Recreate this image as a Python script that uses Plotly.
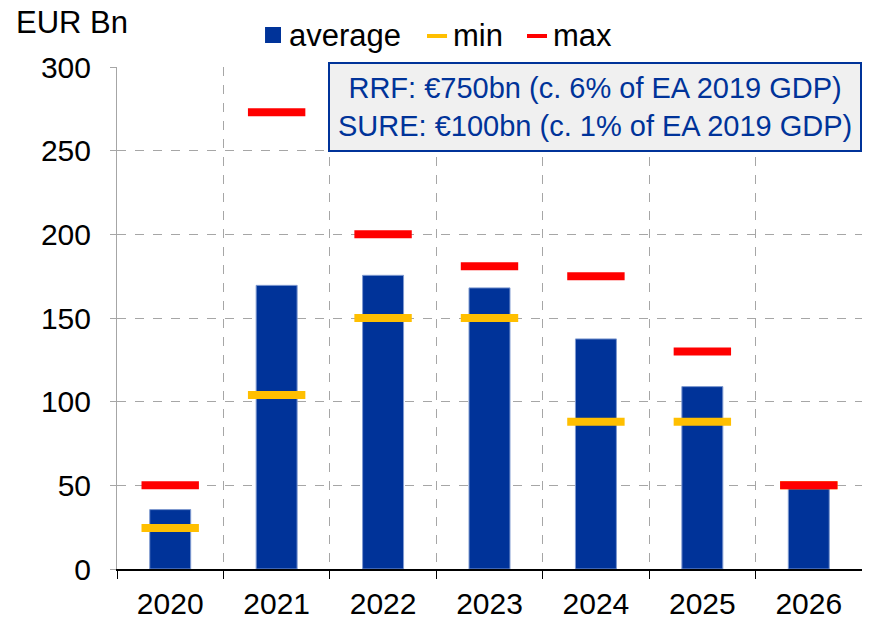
import plotly.graph_objects as go

years = ["2020", "2021", "2022", "2023", "2024", "2025", "2026"]
average = [35.5, 169.5, 175.5, 168, 137.5, 109, 48]
minimum = [24.5, 104, 150, 150, 88, 88, 50]
maximum = [50, 273, 200, 181, 175, 130, 50]
legend_names = ["average", "min", "max"]

blue = "#003399"
yellow = "#FFBF00"
red = "#FF0000"
font = "Liberation Sans, Arial, sans-serif"

fig = go.Figure()
fig.add_bar(x=years, y=average, name="average", width=0.385,
            marker=dict(color=blue, line=dict(color="#7f9ad0", width=1)))
fig.add_scatter(x=years, y=minimum, name="min", mode="markers",
                marker=dict(symbol="line-ew", size=41, color=yellow,
                            line=dict(color=yellow, width=8)))
fig.add_scatter(x=years, y=maximum, name="max", mode="markers",
                marker=dict(symbol="line-ew", size=41, color=red,
                            line=dict(color=red, width=8)))

# page body has an 8px margin, so the figure is a bit smaller than the window
fig.update_layout(
    width=862, height=611,
    margin=dict(l=109, r=8, t=59, b=50),
    plot_bgcolor="white", paper_bgcolor="white",
    font=dict(family=font, size=29, color="black"),
    showlegend=False,
)
fig.update_yaxes(range=[0, 300], dtick=50, showgrid=True, gridcolor="#a6a6a6",
                 griddash="dash", gridwidth=1, showline=True, linecolor="#a6a6a6",
                 ticks="outside", ticklen=6, tickcolor="#a6a6a6", zeroline=False,
                 tickfont=dict(size=30), ticklabelstandoff=13, automargin=False)
fig.update_xaxes(type="category", range=[-0.5, 6.5], tickson="boundaries",
                 showgrid=True, gridcolor="#a6a6a6", griddash="dash", gridwidth=1,
                 showline=True, linecolor="black", linewidth=1.5,
                 ticks="outside", ticklen=8, tickcolor="black",
                 tickfont=dict(size=30), ticklabelstandoff=7, automargin=False)

fig.add_annotation(xref="paper", yref="paper", x=-0.138, y=1.0896, xanchor="left",
                   yanchor="middle", text="EUR Bn", showarrow=False,
                   font=dict(size=31, color="black"))
fig.add_annotation(xref="paper", yref="paper", x=0.283, y=1.01, xanchor="left",
                   yanchor="top",
                   text="RRF: €750bn (c. 6% of EA 2019 GDP)<br>SURE: €100bn (c. 1% of EA 2019 GDP)",
                   showarrow=False, align="center",
                   font=dict(size=29, color=blue),
                   bgcolor="#f0f0f0", bordercolor=blue, borderwidth=2, borderpad=8)

# legend drawn by hand so the keys match the original's size
fig.add_shape(type="rect", xref="paper", yref="paper", x0=0.1987, x1=0.2201,
              y0=1.0478, y1=1.0797, fillcolor=blue, line=dict(width=0))
fig.add_shape(type="line", xref="paper", yref="paper", x0=0.4161, x1=0.4430,
              y0=1.0618, y1=1.0618, line=dict(color=yellow, width=4))
fig.add_shape(type="line", xref="paper", yref="paper", x0=0.5503, x1=0.5772,
              y0=1.0618, y1=1.0618, line=dict(color=red, width=4))
for name, xpos in zip(legend_names, [0.2282, 0.4484, 0.5826]):
    fig.add_annotation(xref="paper", yref="paper", x=xpos, y=1.0637, xanchor="left",
                       yanchor="middle", text=name, showarrow=False,
                       font=dict(size=31, color="black"))

fig.write_html("out.html")
